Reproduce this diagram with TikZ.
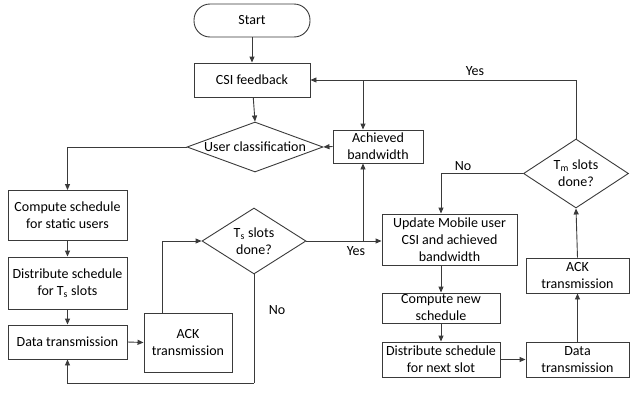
\documentclass[tikz,border=0pt]{standalone}
\usepackage{fontspec}
\setmainfont{Carlito}
\usetikzlibrary{shapes.geometric,arrows.meta}
\definecolor{lc}{HTML}{3A3A3A}
\tikzset{
  base/.style={draw=lc, line width=0.9pt, inner sep=0pt, align=center, text=black,
    font=\fontsize{14}{17}\selectfont},
  stepbox/.style={base, rectangle, minimum width=#1},
  termbox/.style={base, rectangle, rounded corners=16pt},
  dia/.style={base, diamond},
  arr/.style={draw=lc, line width=0.9pt, -{Triangle[length=6pt,width=5pt]}},
  ln/.style={draw=lc, line width=0.9pt},
  lbl/.style={font=\fontsize{14}{17}\selectfont, inner sep=0pt, text=black}
}
\begin{document}
\begin{tikzpicture}[x=1pt,y=-1pt]
\useasboundingbox (0,0) rectangle (630,394);
% nodes
\node[termbox, minimum width=116pt, minimum height=33pt] (start) at (252,20.5) {Start};
\node[stepbox=116pt, minimum height=34pt] (csi) at (252,80) {CSI feedback};
\node[dia, minimum width=136pt, minimum height=50pt,
      label={[lbl]center:User classification}] (uc) at (255,147) {};
\node[stepbox=90pt, minimum height=33pt] (ach) at (378,146.5) {Achieved\\bandwidth};
\node[dia, minimum width=105pt, minimum height=69pt,
      label={[lbl,align=center]center:T\textsubscript{m} slots\\done?}] (tm) at (576,173.5) {};
\node[stepbox=119pt, minimum height=50pt] (cs) at (67.5,215.5) {Compute schedule\\for static users};
\node[dia, minimum width=104pt, minimum height=66pt,
      label={[lbl,align=center]center:T\textsubscript{s} slots\\done?}] (ts) at (254,241) {};
\node[stepbox=135pt, minimum height=51pt] (upd) at (449.5,239.5) {Update Mobile user\\CSI and achieved\\bandwidth};
\node[stepbox=119pt, minimum height=52pt] (dts) at (67.5,283) {Distribute schedule\\for T\textsubscript{s} slots};
\node[stepbox=103pt, minimum height=35pt] (ackR) at (577.5,275.5) {ACK\\transmission};
\node[stepbox=118pt, minimum height=30pt] (cn) at (441,308) {Compute new\\schedule};
\node[stepbox=119pt, minimum height=34pt] (dtL) at (67.5,342) {Data transmission};
\node[stepbox=88pt, minimum height=59pt] (ackL) at (188,342.5) {ACK\\transmission};
\node[stepbox=118pt, minimum height=35pt] (dn) at (441,359.5) {Distribute schedule\\for next slot};
\node[stepbox=103pt, minimum height=35pt] (dtR) at (577.5,359.5) {Data\\transmission};
% labels
\node[lbl] (yes1) at (475,71) {Yes};
\node[lbl] (no1) at (463,166) {No};
\node[lbl] (yes2) at (356,251) {Yes};
\node[lbl] (no2) at (277,310) {No};
% helper coordinates
\coordinate (j1) at (363,241);
\coordinate (j2) at (363,80);
\coordinate (acku) at (162,313);
\coordinate (bot) at (254,383);
% connectors
\draw[arr] (start) -- (csi);
\draw[arr] (csi) -- (uc.north);
\draw[arr] (uc.west) -| (cs.north);
\draw[arr] (cs) -- (dts);
\draw[arr] (dts) -- (dtL);
\draw[arr] (dtL.east) -- (ackL.west);
\draw[arr] (acku) |- (ts.west);
\draw[ln] (ts.south) -- (bot);
\draw[arr] (bot) -| (dtL.south);
\draw[arr] (ts.east) -- (ts.east -| upd.west);
\draw[arr] (j1) -- (j1 |- ach.south);
\draw[arr] (ach.west) -- (uc.east);
\draw[arr] (tm.north) |- (csi.east);
\draw[arr] (j2) -- (j2 |- ach.north);
\draw[arr] (tm.west) -| (cn.north |- upd.north);
\draw[arr] (cn.north |- upd.south) -- (cn.north);
\draw[arr] (cn) -- (dn);
\draw[arr] (dn.east) -- (dtR.west);
\draw[arr] (dtR) -- (ackR);
\draw[arr] (ackR.north) -- (tm.south);
\end{tikzpicture}
\end{document}
